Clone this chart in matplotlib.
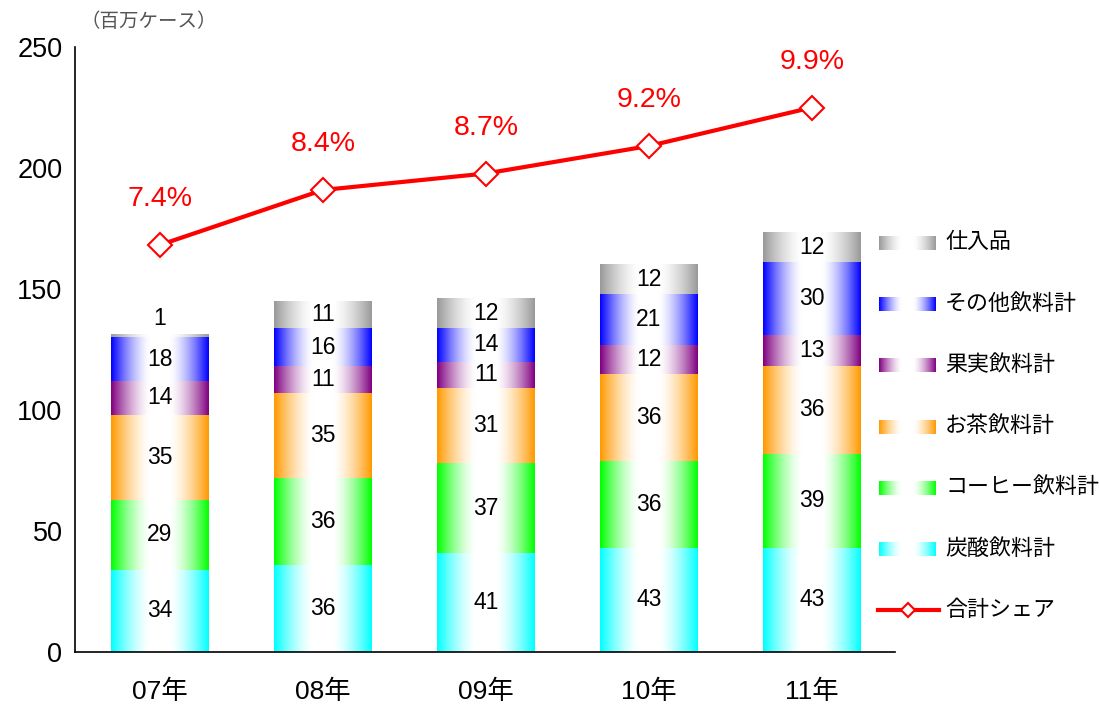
import numpy as np
import matplotlib
matplotlib.use('Agg')
import matplotlib.pyplot as plt
from matplotlib.colors import to_rgb

plt.rcParams['font.family'] = ['Liberation Sans', 'Noto Sans CJK JP']

# data (million cases)
years = ['07年', '08年', '09年', '10年', '11年']
series_names = ['炭酸飲料計', 'コーヒー飲料計', 'お茶飲料計', '果実飲料計', 'その他飲料計', '仕入品']
carbonated = [34, 36, 41, 43, 43]
coffee = [29, 36, 37, 36, 39]
tea = [35, 35, 31, 36, 36]
fruit = [14, 11, 11, 12, 13]
other = [18, 16, 14, 21, 30]
purchased = [1, 11, 12, 12, 12]
share = [7.4, 8.4, 8.7, 9.2, 9.9]   # 合計シェア (%)
share_name = '合計シェア'
colors = ['#00FFFF', '#00FF00', '#FF9900', '#800080', '#0000FF', '#999999']


def gradient(color, n=200):
    # colour at both edges, white in the middle
    u = np.linspace(0, 1, n)
    t = np.clip((np.abs(2 * u - 1) - 0.2) / 0.8, 0, 1) ** 1.5
    c = np.array(to_rgb(color))
    img = (1 - t)[:, None] + t[:, None] * c[None, :]
    return img[None, :, :]


fig = plt.figure(figsize=(10.99, 7.07), dpi=100)
ax = fig.add_axes([75 / 1099, 1 - 652 / 707, (895 - 75) / 1099, (652 - 47) / 707])

x = np.arange(len(years))
width = 0.6
bottom = np.zeros(len(years))
stack = [carbonated, coffee, tea, fruit, other, purchased]
for vals, col in zip(stack, colors):
    for xi, b, v in zip(x, bottom, vals):
        ax.imshow(gradient(col), extent=[xi - width / 2, xi + width / 2, b, b + v],
                  aspect='auto', interpolation='bilinear', zorder=2)
        if v >= 5:
            ax.text(xi, b + v / 2, str(v), ha='center', va='center', fontsize=16.5, zorder=3)
        else:
            ax.text(xi, b + v + 7, str(v), ha='center', va='center', fontsize=16.5, zorder=3)
    bottom += np.array(vals)

ax.set_xlim(-0.52, 4.51)
ax.set_ylim(0, 250)
ax.set_yticks(np.arange(0, 251, 50))
ax.set_xticks(x)
ax.set_xticklabels(years)
ax.tick_params(axis='y', length=0, labelsize=19.5, pad=9)
ax.tick_params(axis='x', length=0, labelsize=19, pad=20)
for s in ['top', 'right']:
    ax.spines[s].set_visible(False)
for s in ['left', 'bottom']:
    ax.spines[s].set_linewidth(1.2)

# share line on hidden secondary axis
ax2 = ax.twinx()
ax2.set_ylim(0, 11)
ax2.plot(x, share, color='red', lw=3, marker='D', ms=12.5,
         mfc='white', mec='red', mew=1.5, zorder=5)
for xi, s in zip(x, share):
    ax2.annotate(f'{s}%', (xi, s), xytext=(0, 33), textcoords='offset points',
                 ha='center', va='center', color='red', fontsize=20.5)
ax2.axis('off')
ax2.set_xlim(-0.52, 4.51)

# legend drawn in pixel coordinates
leg = fig.add_axes([0, 0, 1, 1])
for i, (name, col) in enumerate(zip(series_names[::-1], colors[::-1])):
    yy = 243 + i * 61.2
    leg.imshow(gradient(col), extent=[879, 936, yy + 7, yy - 7],
               aspect='auto', interpolation='bilinear')
    leg.text(945, yy, name, va='center', ha='left', fontsize=15.8)
yy = 243 + 6 * 61.2
leg.plot([878, 939], [yy, yy], color='red', lw=3)
leg.plot([908], [yy], marker='D', ms=7, mfc='white', mec='red', mew=1.5)
leg.text(945, yy, share_name, va='center', ha='left', fontsize=15.8)
leg.set_xlim(0, 1099)
leg.set_ylim(707, 0)
leg.axis('off')

fig.text(80 / 1099, 1 - 22 / 707, '（百万ケース）', fontsize=14, color='#555555', va='center')

fig.savefig('out.png', dpi=100)
